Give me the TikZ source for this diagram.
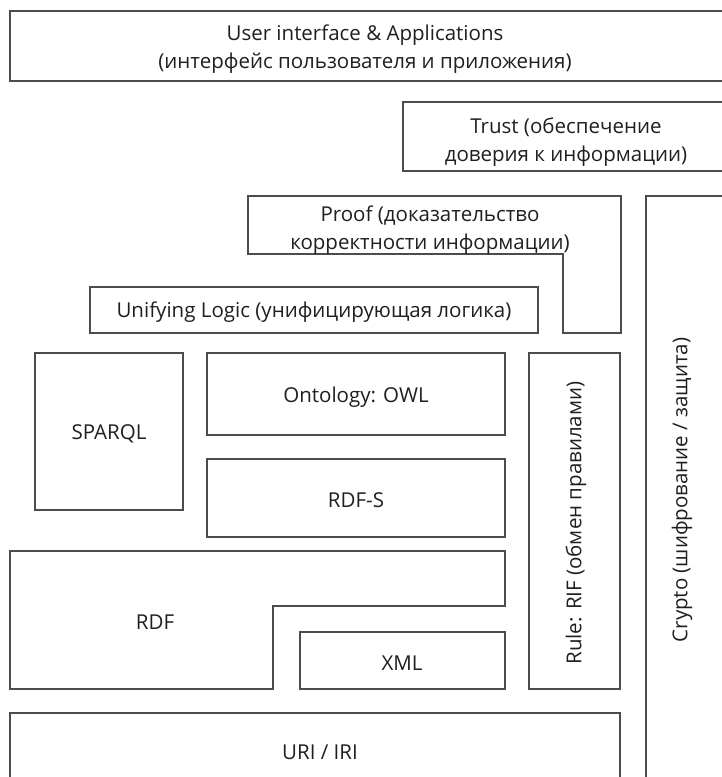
\documentclass[tikz,border=0pt]{standalone}
\usepackage{fontspec}
\setmainfont{Open Sans}
\begin{document}
\begin{tikzpicture}[x=1pt,y=-1pt,
  frame/.style={draw=black!70, line width=1.1pt, line join=miter},
  lbl/.style={font=\fontsize{20.5}{28.5}\selectfont, text=black!88, align=center, inner sep=0pt}]
\useasboundingbox (0,0) rectangle (722,777);

% User interface & Applications (open to the right)
\draw[frame] (740,11) -- (10,11) -- (10,81) -- (740,81);
\node[lbl] (ui) at (365,49) {User interface \& Applications\\(интерфейс пользователя и приложения)};

% Trust (open to the right)
\draw[frame] (740,102) -- (403,102) -- (403,171) -- (740,171);
\node[lbl] (trust) at (566,142) {Trust (обеспечение\\доверия к информации)};

% Proof, with its lower-right leg
\draw[frame] (248,196) -- (621,196) -- (621,333) -- (563,333) -- (563,254) -- (248,254) -- cycle;
\node[lbl] (proof) at (430,230) {Proof (доказательство\\корректности информации)};

% Unifying Logic
\draw[frame] (90,287) rectangle (538,333);
\node[lbl] (logic) at (314,312) {Unifying Logic (унифицирующая логика)};

% Crypto (open at the right and bottom)
\draw[frame] (740,196) -- (646,196) -- (646,790);
\node[lbl, rotate=90] (crypto) at (682,490) {Crypto (шифрование / защита)};

% SPARQL
\draw[frame] (35,353) rectangle (183,510);
\node[lbl] (sparql) at (109,434) {SPARQL};

% Ontology
\draw[frame] (207,353) rectangle (505,435);
\node[lbl] (owl) at (356,397) {Ontology: OWL};

% RDF-S
\draw[frame] (207,459) rectangle (505,537);
\node[lbl] (rdfs) at (356,500) {RDF-S};

% Rule: RIF
\draw[frame] (529,353) rectangle (620,689);
\node[lbl, rotate=90] (rif) at (576,523) {Rule: RIF (обмен правилами)};

% RDF, stepped around XML
\draw[frame] (10,551) -- (505,551) -- (505,606) -- (273,606) -- (273,689) -- (10,689) -- cycle;
\node[lbl] (rdf) at (155,622) {RDF};

% XML
\draw[frame] (300,632) rectangle (505,689);
\node[lbl] (xml) at (402,663) {XML};

% URI / IRI (open at the bottom)
\draw[frame] (10,790) -- (10,713) -- (620,713) -- (620,790);
\node[lbl] (uri) at (320,752) {URI / IRI};
\end{tikzpicture}
\end{document}
